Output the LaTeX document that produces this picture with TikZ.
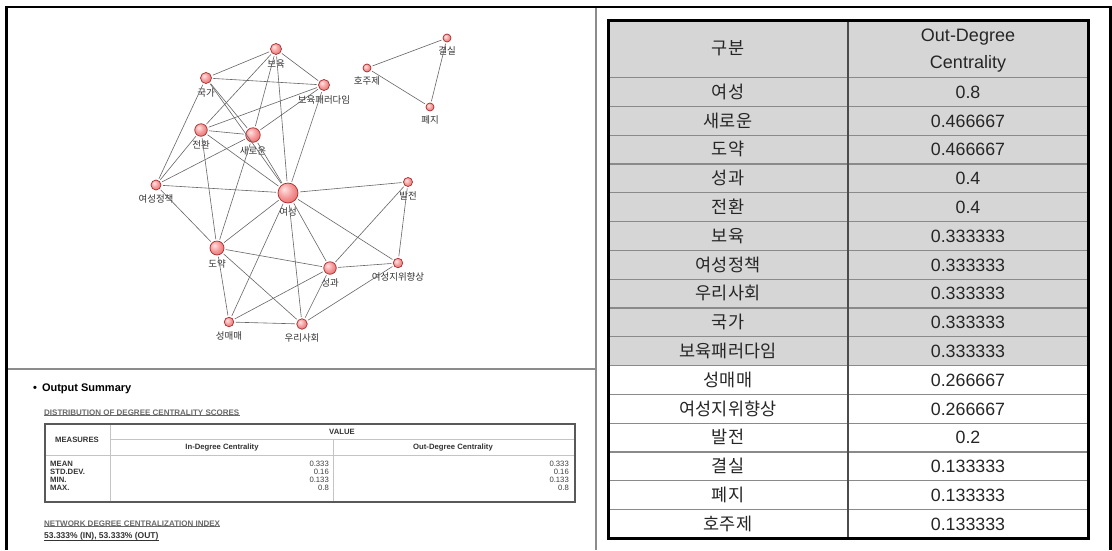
\documentclass[tikz,border=0pt]{standalone}
\usepackage{fontspec}
\setmainfont{Liberation Sans}
\newfontfamily\kr{Noto Sans CJK KR}
\definecolor{edgecol}{HTML}{666666}
\definecolor{nodeborder}{HTML}{A82E2E}
\definecolor{nodein}{HTML}{FFE4E4}
\definecolor{nodemid}{HTML}{F59A9A}
\definecolor{nodeout}{HTML}{E25454}
\definecolor{tblgray}{HTML}{D6D6D6}
\definecolor{rowline}{HTML}{8A8A8A}
\definecolor{framegray}{HTML}{8C8C8C}
\definecolor{sumgray}{HTML}{6A6A6A}
\definecolor{sumline}{HTML}{C4C4C4}
\definecolor{sumtext}{HTML}{333333}
\pgfdeclareradialshading{pinkball}{\pgfpoint{-10bp}{10bp}}{color(0bp)=(nodein); color(18bp)=(nodemid); color(40bp)=(nodeout); color(60bp)=(nodeout)}
\tikzset{
  gnode/.style={circle, draw=nodeborder, line width=0.7pt, inner sep=0pt, shading=pinkball, minimum size=#1},
  lbl/.style={font=\kr\fontsize{9.5}{10}\selectfont, text=black!80, inner sep=0.3pt, yshift=-4pt},
  link/.style={draw=edgecol, line width=0.6pt, shorten <=1.5pt, shorten >=1.5pt},
  sumhead/.style={font=\bfseries\fontsize{8}{9}\selectfont, text=sumgray, inner sep=0pt},
  sumbold/.style={font=\bfseries\fontsize{7.7}{8}\selectfont, text=sumtext, inner sep=0pt},
  sumval/.style={font=\fontsize{7.7}{8}\selectfont, text=black!75, inner sep=0pt},
  cellkr/.style={font=\kr\fontsize{17.5}{20}\selectfont, text=black!85, inner sep=0pt, anchor=base},
  cellnum/.style={font=\fontsize{17.8}{20}\selectfont, text=black!85, inner sep=0pt, anchor=base},
}
\begin{document}
\begin{tikzpicture}[x=1pt,y=-1pt]
\useasboundingbox (0,0) rectangle (1112,550);
\fill[white] (0,0) rectangle (1112,550);

% ---------- frame ----------
\draw[line width=2.5pt] (5,7) -- (1112,7);
\draw[line width=3pt] (6.5,5.75) -- (6.5,550);
\draw[line width=3pt] (1110.5,5.75) -- (1110.5,550);
\draw[framegray, line width=1.5pt] (596,8.2) -- (596,550);
\draw[framegray, line width=1.5pt] (8,369) -- (596,369);

% ---------- network ----------
\node[gnode=11pt, label={[lbl]below:보육}] (boy) at (276,49) {};
\node[gnode=11pt, label={[lbl]below:국가}] (gk) at (206,78) {};
\node[gnode=11pt, label={[lbl]below:보육패러다임}] (bpd) at (324,85) {};
\node[gnode=8pt, label={[lbl]below:호주제}] (hjj) at (367,68) {};
\node[gnode=8pt, label={[lbl]below:결실}] (gs) at (447,38) {};
\node[gnode=8pt, label={[lbl]below:폐지}] (pj) at (430,107) {};
\node[gnode=12.5pt, label={[lbl]below:전환}] (jh) at (201,130) {};
\node[gnode=14.5pt, label={[lbl]below:새로운}] (sae) at (253,135) {};
\node[gnode=10pt, label={[lbl]below:여성정책}] (yjc) at (156,185) {};
\node[gnode=20pt, label={[lbl]below:여성}] (yeo) at (288,193) {};
\node[gnode=9pt, label={[lbl]below:발전}] (bj) at (408,182) {};
\node[gnode=14pt, label={[lbl]below:도약}] (doy) at (217,248) {};
\node[gnode=12.5pt, label={[lbl]below:성과}] (sgw) at (330,268) {};
\node[gnode=9.5pt, label={[lbl]below:여성지위향상}] (yjw) at (398,263) {};
\node[gnode=9.5pt, label={[lbl]below:성매매}] (smm) at (229,322) {};
\node[gnode=10.5pt, label={[lbl]below:우리사회}] (uri) at (302,324) {};

\foreach \a/\b in {boy/gk, boy/bpd, boy/jh, boy/sae, boy/yeo,
  gk/bpd, gk/sae, gk/yeo, gk/yjc,
  bpd/jh, bpd/sae, bpd/yeo,
  yjc/sae, yjc/yeo, yjc/doy, yjc/jh,
  jh/sae, jh/doy, jh/yeo,
  sae/yeo, sae/doy,
  yeo/bj, yeo/doy, yeo/sgw, yeo/yjw, yeo/smm, yeo/uri,
  doy/sgw, doy/smm, doy/uri,
  sgw/bj, sgw/yjw, sgw/smm, sgw/uri,
  yjw/bj, yjw/uri, smm/uri,
  hjj/gs, hjj/pj, gs/pj}
  \draw[link] (\a) -- (\b);

% ---------- output summary ----------
\node[font=\bfseries\fontsize{11}{12}\selectfont, text=black, anchor=base west, inner sep=0pt] (osum) at (33,391) {\textbullet\hspace{5pt}Output Summary};

\node[sumhead, anchor=base west] (dist) at (44,415) {DISTRIBUTION OF DEGREE CENTRALITY SCORES};
\draw[sumgray, line width=0.6pt] (dist.south west) -- (dist.south east);

\draw[sumline, line width=0.8pt] (110,424) -- (110,502);
\draw[sumline, line width=0.8pt] (110,439) -- (575,439);
\draw[sumline, line width=0.8pt] (45,455) -- (575,455);
\draw[sumline, line width=0.8pt] (333,439) -- (333,502);
\draw[black!65, line width=1.3pt] (45,424) rectangle (575,502);

\node[sumbold] (meas) at (77,439.5) {MEASURES};
\node[sumbold] (val) at (342,431.5) {VALUE};
\node[sumbold] (indeg) at (222,447.5) {In-Degree Centrality};
\node[sumbold] (outdeg) at (453,447.5) {Out-Degree Centrality};
\foreach \lab/\v [count=\i] in {MEAN/0.333, STD.DEV./0.16, MIN./0.133, MAX./0.8}{
  \node[sumbold, anchor=base west] (ml\i) at (50,{458.7+8*\i}) {\lab};
  \node[sumval, anchor=base east] (mi\i) at (329,{458.7+8*\i}) {\v};
  \node[sumval, anchor=base east] (mo\i) at (569,{458.7+8*\i}) {\v};
}

\node[sumhead, anchor=base west] (ndci) at (44,526) {NETWORK DEGREE CENTRALIZATION INDEX};
\draw[sumgray, line width=0.6pt] (ndci.south west) -- (ndci.south east);
\node[font=\bfseries\fontsize{8.5}{9}\selectfont, text=sumtext, anchor=base west, inner sep=0pt] (idx) at (44,538) {53.333\% (IN), 53.333\% (OUT)};
\draw[sumtext, line width=0.6pt] (idx.south west) -- (idx.south east);

% ---------- right table ----------
\fill[tblgray] (608,20) rectangle (1088,365.6);
\foreach \k in {0,...,15}
  \draw[rowline, line width=1.2pt] (608,{77.6+28.8*\k}) -- (1088,{77.6+28.8*\k});
\draw[black!70, line width=1.4pt] (848,20) -- (848,538.4);
\draw[black, line width=3pt] (608,20) rectangle (1088,538.4);

\node[font=\kr\fontsize{17.5}{20}\selectfont, text=black!85, inner sep=0pt] (h1) at (728,48) {구분};
\node[font=\fontsize{18}{27}\selectfont, text=black!85, inner sep=0pt, align=center] (h2) at (968,51) {Out-Degree\\Centrality};

\foreach \lab/\v [count=\i] in {여성/0.8, 새로운/0.466667, 도약/0.466667, 성과/0.4, 전환/0.4,
  보육/0.333333, 여성정책/0.333333, 우리사회/0.333333, 국가/0.333333, 보육패러다임/0.333333,
  성매매/0.266667, 여성지위향상/0.266667, 발전/0.2, 결실/0.133333, 폐지/0.133333, 호주제/0.133333}{
  \node[cellkr] (ka\i) at (728,{77.6+28.8*(\i-0.5)+6.3}) {\lab};
  \node[cellnum] (kb\i) at (968,{77.6+28.8*(\i-0.5)+6.3}) {\v};
}
\end{tikzpicture}
\end{document}
